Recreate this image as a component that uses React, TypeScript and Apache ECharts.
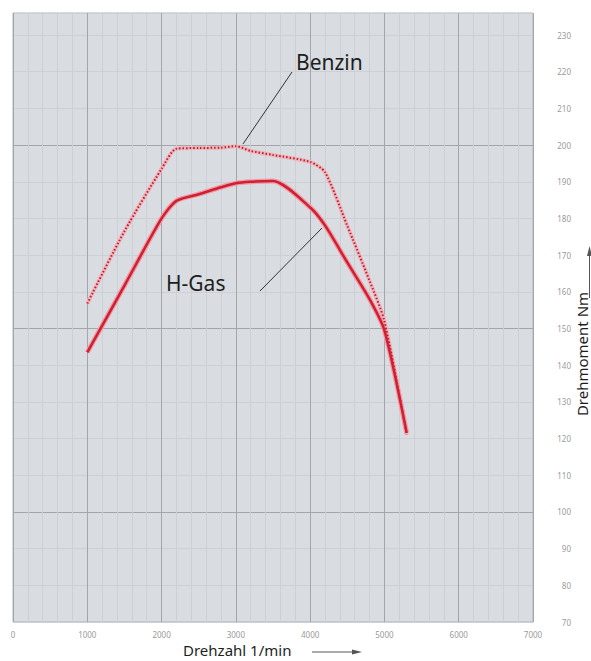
import React, { useEffect, useRef } from "react";
import * as echarts from "echarts";

const rpm = [1000, 1500, 2000, 2200, 2500, 2800, 3000, 3200, 3500, 4000, 4200, 4500, 4800, 5000, 5300];
const benzin = [156.8, 176.5, 193.5, 199.0, 199.2, 199.3, 199.7, 198.4, 197.3, 195.4, 192.6, 178.0, 163.0, 152.0, 121.0];
const hgas = [143.5, 161.7, 180.0, 184.8, 186.6, 188.5, 189.6, 190.0, 190.2, 183.0, 178.1, 168.0, 158.0, 149.5, 121.5];

const xTicks = [0, 1000, 2000, 3000, 4000, 5000, 6000, 7000];
const yTicks = [70, 80, 90, 100, 110, 120, 130, 140, 150, 160, 170, 180, 190, 200, 210, 220, 230];

const pairs = (ys: number[]) => rpm.map((x, i) => [x, ys[i]]);

export default function App() {
  const ref = useRef<HTMLDivElement>(null);
  useEffect(() => {
    if (!ref.current) return;
    const chart = echarts.init(ref.current, undefined, { renderer: "svg" });
    const font = "Noto Sans";
    const light = "#ccd0d4";
    const dark = "#a2a6aa";
    chart.setOption({
      animation: false,
      backgroundColor: "#ffffff",
      grid: {
        left: 13,
        right: 58,
        top: 13,
        bottom: 39,
        show: true,
        backgroundColor: "#d9dde1",
        borderColor: "#b0b4b8",
        borderWidth: 1,
      },
      xAxis: {
        type: "value",
        min: xTicks[0],
        max: xTicks[xTicks.length - 1],
        interval: 1000,
        axisLine: { show: false },
        axisTick: { show: false },
        axisLabel: {
          color: "#9a9a9a",
          fontSize: 8,
          fontFamily: font,
          margin: 8,
          formatter: (v: number) => (xTicks.includes(v) ? String(v) : ""),
        },
        splitLine: { show: true, lineStyle: { color: dark, width: 1 } },
        minorTick: { show: false, splitNumber: 5 },
        minorSplitLine: { show: true, lineStyle: { color: light, width: 1 } },
      },
      yAxis: {
        type: "value",
        position: "right",
        min: yTicks[0],
        max: 236,
        interval: 10,
        axisLine: { show: false },
        axisTick: { show: false },
        axisLabel: {
          color: "#9a9a9a",
          fontSize: 8,
          fontFamily: font,
          align: "right",
          margin: 38,
          formatter: (v: number) => (yTicks.includes(v) ? String(v) : ""),
        },
        splitLine: {
          show: true,
          lineStyle: { color: [light, light, light, dark, light], width: 1 },
        },
      },
      series: [
        {
          type: "line",
          data: pairs(benzin),
          showSymbol: false,
          smooth: 0.25,
          lineStyle: { color: "#f0b4bc", width: 4 },
          z: 2,
        },
        {
          type: "line",
          data: pairs(benzin),
          showSymbol: false,
          smooth: 0.25,
          lineStyle: { color: "#b81e30", width: 2, type: [1.5, 2] },
          z: 3,
        },
        {
          type: "line",
          data: pairs(hgas),
          showSymbol: false,
          smooth: 0.25,
          lineStyle: { color: "#f09aa4", width: 5 },
          z: 2,
        },
        {
          type: "line",
          data: pairs(hgas),
          showSymbol: false,
          smooth: 0.25,
          lineStyle: { color: "#cf1f33", width: 2.5 },
          z: 3,
        },
      ],
      graphic: [
        {
          type: "text",
          x: 296,
          y: 62,
          style: {
            text: "Benzin",
            fontSize: 21,
            fontFamily: font,
            fill: "#1e1e1e",
            verticalAlign: "middle",
            letterSpacing: 1.5,
          },
          z: 10,
        },
        {
          type: "line",
          shape: { x1: 292, y1: 72, x2: 243, y2: 144 },
          style: { stroke: "#333", lineWidth: 1 },
          z: 10,
        },
        {
          type: "text",
          x: 166,
          y: 283,
          style: {
            text: "H-Gas",
            fontSize: 21,
            fontFamily: font,
            fill: "#1e1e1e",
            verticalAlign: "middle",
            letterSpacing: 3,
          },
          z: 10,
        },
        {
          type: "line",
          shape: { x1: 260, y1: 291, x2: 322, y2: 228 },
          style: { stroke: "#333", lineWidth: 1 },
          z: 10,
        },
        {
          type: "text",
          x: 183,
          y: 650,
          style: {
            text: "Drehzahl 1/min",
            fontSize: 15,
            fontFamily: font,
            fill: "#1e1e1e",
            verticalAlign: "middle",
            letterSpacing: 1,
          },
          z: 10,
        },
        {
          type: "line",
          shape: { x1: 312, y1: 652, x2: 356, y2: 652 },
          style: { stroke: "#555", lineWidth: 1 },
          z: 10,
        },
        {
          type: "polygon",
          shape: { points: [[352, 649.5], [362, 652], [352, 654.5]] },
          style: { fill: "#555" },
          z: 10,
        },
        {
          type: "text",
          x: 582,
          y: 354,
          rotation: Math.PI / 2,
          style: {
            text: "Drehmoment Nm",
            fontSize: 15,
            fontFamily: font,
            fill: "#1e1e1e",
            align: "center",
            verticalAlign: "middle",
          },
          z: 10,
        },
        {
          type: "line",
          shape: { x1: 589.5, y1: 298, x2: 589.5, y2: 252 },
          style: { stroke: "#555", lineWidth: 1 },
          z: 10,
        },
        {
          type: "polygon",
          shape: { points: [[587, 256], [589.5, 246], [592, 256]] },
          style: { fill: "#555" },
          z: 10,
        },
      ],
    });
    return () => chart.dispose();
  }, []);
  return (
    <div
      ref={ref}
      style={{ position: "fixed", left: 0, top: 0, width: 591, height: 661 }}
    />
  );
}
